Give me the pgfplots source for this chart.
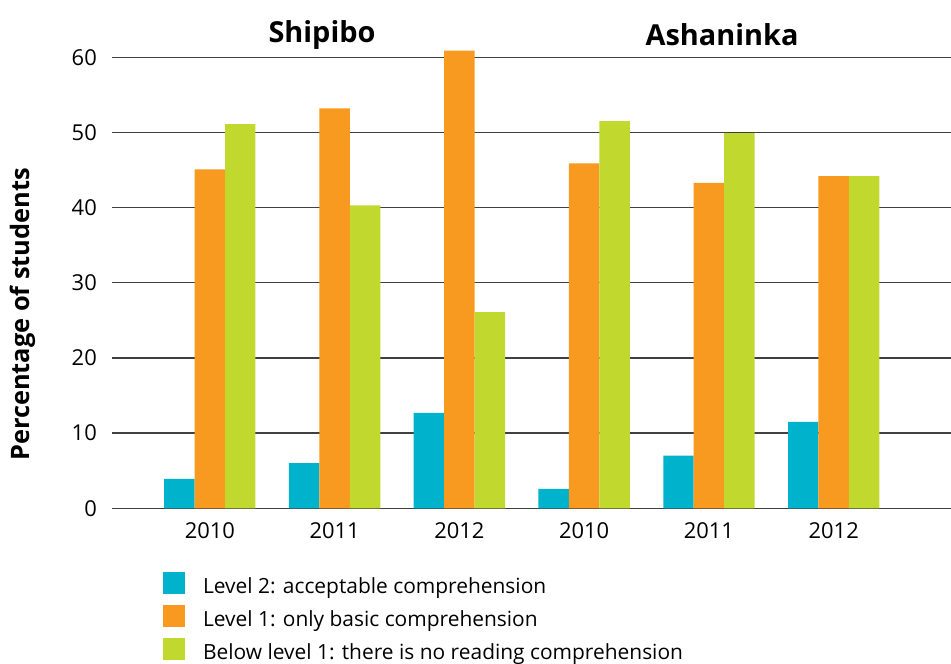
\documentclass[border=0pt]{standalone}
\usepackage{pgfplots}
\pgfplotsset{compat=1.18}
\usepackage{fontspec}
\setmainfont{Open Sans}
\definecolor{cblue}{RGB}{0,178,204}
\definecolor{corange}{RGB}{248,154,31}
\definecolor{cgreen}{RGB}{193,216,47}
\begin{document}
\begin{tikzpicture}
\begin{axis}[
  scale only axis, width=839bp, height=451bp,
  xmin=-0.784, xmax=5.94, ymin=0, ymax=60,
  axis line style={draw=none}, major tick length=0pt, tick style={draw=none},
  clip=false,
  xtick={0,1,2,3,4,5}, xticklabels={2010,2011,2012,2010,2011,2012},
  ytick={0,10,20,30,40,50,60},
  ymajorgrids, major grid style={black!75, line width=1.3bp},
  /pgf/number format/assume math mode=true,
  every tick label/.append style={font=\fontsize{22}{26}\selectfont},
  yticklabel style={inner sep=0pt, anchor=east, xshift=-15bp},
  xticklabel style={inner sep=0pt, anchor=north, yshift=-14bp},
  ylabel={Percentage of students},
  ylabel style={at={(axis description cs:-0.106,0.43)}, anchor=center, font=\bfseries\fontsize{25.5}{30}\selectfont},
  legend style={at={(axis description cs:0.057,-0.137)}, anchor=north west, draw=none, fill=none,
    font=\fontsize{21}{25}\selectfont, row sep=6.5bp, column sep=0bp,
    nodes={inner sep=0pt, text height=16bp, text depth=5bp}},
  legend cell align=left,
  legend image code/.code={\fill[#1] (0bp,-6bp) rectangle (22bp,16bp); \path (40bp,0bp);},
]
\addplot[ybar, bar width=0.244, bar shift=-0.244, fill=cblue, draw=none] coordinates {(0,3.9) (1,6.0) (2,12.7) (3,2.6) (4,7.0) (5,11.5)};
\addlegendentry{Level 2: acceptable comprehension}
\addplot[ybar, bar width=0.244, bar shift=0, fill=corange, draw=none] coordinates {(0,45.1) (1,53.2) (2,60.9) (3,45.9) (4,43.3) (5,44.2)};
\addlegendentry{Level 1: only basic comprehension}
\addplot[ybar, bar width=0.244, bar shift=0.244, fill=cgreen, draw=none] coordinates {(0,51.1) (1,40.3) (2,26.1) (3,51.5) (4,49.9) (5,44.2)};
\addlegendentry{Below level 1: there is no reading comprehension}
\node[font=\bfseries\fontsize{29}{33}\selectfont] at (axis cs:0.899,63.0) {Shipibo};
\node[font=\bfseries\fontsize{29}{33}\selectfont] at (axis cs:4.105,63.0) {Ashaninka};
\end{axis}
\pgfresetboundingbox
\path (-112bp,-155.7bp) rectangle (839bp,508.3bp);
\end{tikzpicture}
\end{document}
